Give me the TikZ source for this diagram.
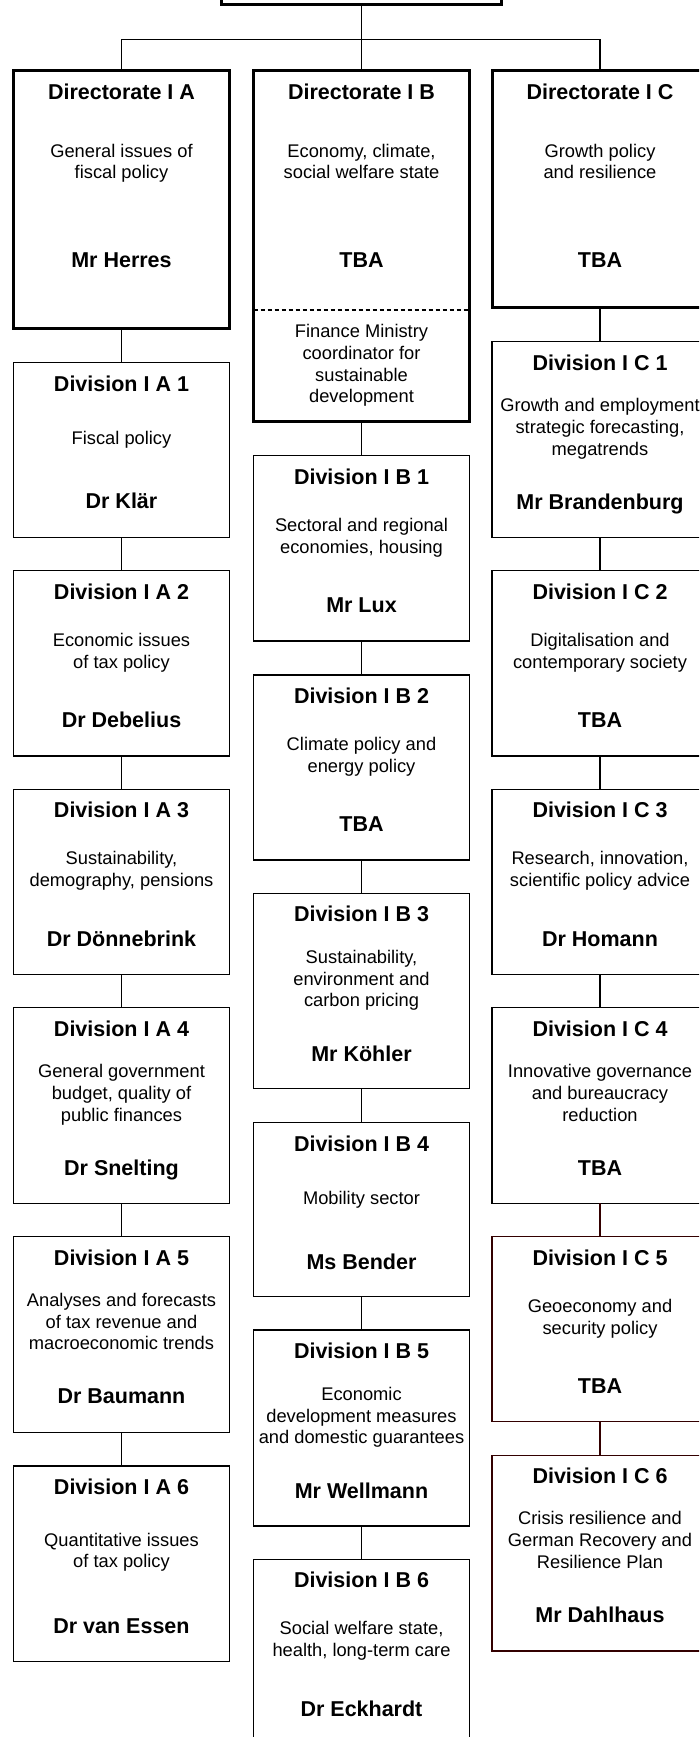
\documentclass[tikz,border=0pt]{standalone}
\usepackage{fontspec}
\setmainfont{Liberation Sans}
\usepackage{tikz}
\definecolor{maroon}{RGB}{51,0,0}

\begin{document}
\begin{tikzpicture}[x=1pt,y=-1pt,line width=1.4pt,
  dirbox/.style={draw,line width=3pt,anchor=north,minimum width=216pt,inner sep=0pt,outer sep=0pt},
  divbox/.style={draw,anchor=north,minimum width=216pt,inner sep=0pt,outer sep=0pt},
  head/.style={font=\bfseries\fontsize{21.5}{25}\selectfont,text height=15.4pt,text depth=0pt,inner sep=0pt},
  desc/.style={font=\fontsize{18.3}{21.7}\selectfont,align=center,inner sep=0pt,
    execute at begin node=\strut,execute at end node=\strut}]
\path[use as bounding box,clip] (0,0) rectangle (699,1737);

\node[dirbox,minimum width=280pt,minimum height=70pt] (top) at (361.5,-65) {};
\coordinate (split) at (361.5,39.3);
\coordinate (splita) at (121.5,39.3);
\coordinate (splitc) at (600,39.3);

\node[dirbox,minimum height=257.8pt] (dira) at (121.5,70.7) {};
\node[dirbox,minimum height=351pt]   (dirb) at (361.5,70.7) {};
\node[dirbox,minimum height=236.3pt] (dirc) at (600,70.7) {};

\node[divbox,minimum height=175.4pt] (a1) at (121.5,362.3) {};
\node[divbox,minimum height=185.3pt] (a2) at (121.5,570.7) {};
\node[divbox,minimum height=185pt]   (a3) at (121.5,789.3) {};
\node[divbox,minimum height=195.6pt] (a4) at (121.5,1007.7) {};
\node[divbox,minimum height=195.6pt] (a5) at (121.5,1236.7) {};
\node[divbox,minimum height=195.7pt] (a6) at (121.5,1466) {};

\node[divbox,minimum height=185.3pt] (b1) at (361.5,455.7) {};
\node[divbox,minimum height=185pt]   (b2) at (361.5,675) {};
\node[divbox,minimum height=195pt]   (b3) at (361.5,893.3) {};
\node[divbox,minimum height=174pt]   (b4) at (361.5,1122.7) {};
\node[divbox,minimum height=196pt]   (b5) at (361.5,1330) {};
\node[divbox,minimum height=195.7pt] (b6) at (361.5,1559.3) {};

\node[divbox,minimum height=196pt]   (c1) at (600,341.7) {};
\node[divbox,minimum height=185.3pt] (c2) at (600,570.7) {};
\node[divbox,minimum height=185pt]   (c3) at (600,789.3) {};
\node[divbox,minimum height=195.6pt] (c4) at (600,1007.7) {};
\node[divbox,draw=maroon,minimum height=185pt]   (c5) at (600,1236.7) {};
\node[divbox,draw=maroon,minimum height=195.3pt] (c6) at (600,1455.7) {};

\draw[dash pattern=on 4pt off 3pt] ([yshift=111.7pt]dirb.south west) -- ([yshift=111.7pt]dirb.south east);

\node[head] (dirah) at (121.5,91.7)  {Directorate I A};
\node[desc] (dirad) at (121.5,164.5) {General issues of\\fiscal policy};
\node[head] (diran) at (121.5,259.3) {Mr Herres};
\node[head] (dirbh) at (361.5,91.7)  {Directorate I B};
\node[desc] (dirbd) at (361.5,164.5) {Economy, climate,\\social welfare state};
\node[head] (dirbn) at (361.5,259.3) {TBA};
\node[desc] (dirbs) at (361.5,367)   {Finance Ministry\\coordinator for\\sustainable\\development};
\node[head] (dirch) at (600,91.7)    {Directorate I C};
\node[desc] (dircd) at (600,164.5)   {Growth policy\\and resilience};
\node[head] (dircn) at (600,259.3)   {TBA};

\node[head] (a1h) at (121.5,383.3)  {Division I A 1};
\node[desc] (a1d) at (121.5,440)    {Fiscal policy};
\node[head] (a1n) at (121.5,501)    {Dr Klär};
\node[head] (a2h) at (121.5,591.7)  {Division I A 2};
\node[desc] (a2d) at (121.5,654.2)  {Economic issues\\of tax policy};
\node[head] (a2n) at (121.5,720)    {Dr Debelius};
\node[head] (a3h) at (121.5,810)    {Division I A 3};
\node[desc] (a3d) at (121.5,872)    {Sustainability,\\demography, pensions};
\node[head] (a3n) at (121.5,938.3)  {Dr Dönnebrink};
\node[head] (a4h) at (121.5,1028.3) {Division I A 4};
\node[desc] (a4d) at (121.5,1096)   {General government\\budget, quality of\\public finances};
\node[head] (a4n) at (121.5,1167.7) {Dr Snelting};
\node[head] (a5h) at (121.5,1257.7) {Division I A 5};
\node[desc] (a5d) at (121.5,1324.7) {Analyses and forecasts\\of tax revenue and\\macroeconomic trends};
\node[head] (a5n) at (121.5,1396)   {Dr Baumann};
\node[head] (a6h) at (121.5,1486.7) {Division I A 6};
\node[desc] (a6d) at (121.5,1553.7) {Quantitative issues\\of tax policy};
\node[head] (a6n) at (121.5,1625.7) {Dr van Essen};

\node[head] (b1h) at (361.5,476.7)  {Division I B 1};
\node[desc] (b1d) at (361.5,539.2)  {Sectoral and regional\\economies, housing};
\node[head] (b1n) at (361.5,605)    {Mr Lux};
\node[head] (b2h) at (361.5,696)    {Division I B 2};
\node[desc] (b2d) at (361.5,757.8)  {Climate policy and\\energy policy};
\node[head] (b2n) at (361.5,824)    {TBA};
\node[head] (b3h) at (361.5,913.3)  {Division I B 3};
\node[desc] (b3d) at (361.5,981.7)  {Sustainability,\\environment and\\carbon pricing};
\node[head] (b3n) at (361.5,1053.3) {Mr Köhler};
\node[head] (b4h) at (361.5,1143.3) {Division I B 4};
\node[desc] (b4d) at (361.5,1200)   {Mobility sector};
\node[head] (b4n) at (361.5,1261.7) {Ms Bender};
\node[head] (b5h) at (361.5,1350.5) {Division I B 5};
\node[desc] (b5d) at (361.5,1418.8) {Economic\\development measures\\and domestic guarantees};
\node[head] (b5n) at (361.5,1490.7) {Mr Wellmann};
\node[head] (b6h) at (361.5,1579.3) {Division I B 6};
\node[desc] (b6d) at (361.5,1642.2) {Social welfare state,\\health, long-term care};
\node[head] (b6n) at (361.5,1708.3) {Dr Eckhardt};

\node[head] (c1h) at (600,362.3)  {Division I C 1};
\node[desc] (c1d) at (600,430)    {Growth and employment\\strategic forecasting,\\megatrends};
\node[head] (c1n) at (600,501.7)  {Mr Brandenburg};
\node[head] (c2h) at (600,591.7)  {Division I C 2};
\node[desc] (c2d) at (600,654.2)  {Digitalisation and\\contemporary society};
\node[head] (c2n) at (600,720)    {TBA};
\node[head] (c3h) at (600,810)    {Division I C 3};
\node[desc] (c3d) at (600,872)    {Research, innovation,\\scientific policy advice};
\node[head] (c3n) at (600,938.3)  {Dr Homann};
\node[head] (c4h) at (600,1028.3) {Division I C 4};
\node[desc] (c4d) at (600,1096.1) {Innovative governance\\and bureaucracy\\reduction};
\node[head] (c4n) at (600,1167.7) {TBA};
\node[head] (c5h) at (600,1257.7) {Division I C 5};
\node[desc] (c5d) at (600,1320)   {Geoeconomy and\\security policy};
\node[head] (c5n) at (600,1385.7) {TBA};
\node[head] (c6h) at (600,1476)   {Division I C 6};
\node[desc] (c6d) at (600,1543.3) {Crisis resilience and\\German Recovery and\\Resilience Plan};
\node[head] (c6n) at (600,1615)   {Mr Dahlhaus};

\path   (top)    edge              (split)
        (splita) edge              (splitc)
                 edge              (dira)
        (split)  edge              (dirb)
        (splitc) edge              (dirc)
        (dira)   edge              (a1)
        (a1)     edge              (a2)
        (a2)     edge              (a3)
        (a3)     edge              (a4)
        (a4)     edge              (a5)
        (a5)     edge              (a6)
        (dirb)   edge              (b1)
        (b1)     edge              (b2)
        (b2)     edge              (b3)
        (b3)     edge              (b4)
        (b4)     edge              (b5)
        (b5)     edge              (b6)
        (dirc)   edge              (c1)
        (c1)     edge              (c2)
        (c2)     edge              (c3)
        (c3)     edge              (c4)
        (c4)     edge [maroon]     (c5)
        (c5)     edge [maroon]     (c6)
        ;
\end{tikzpicture}
\end{document}
